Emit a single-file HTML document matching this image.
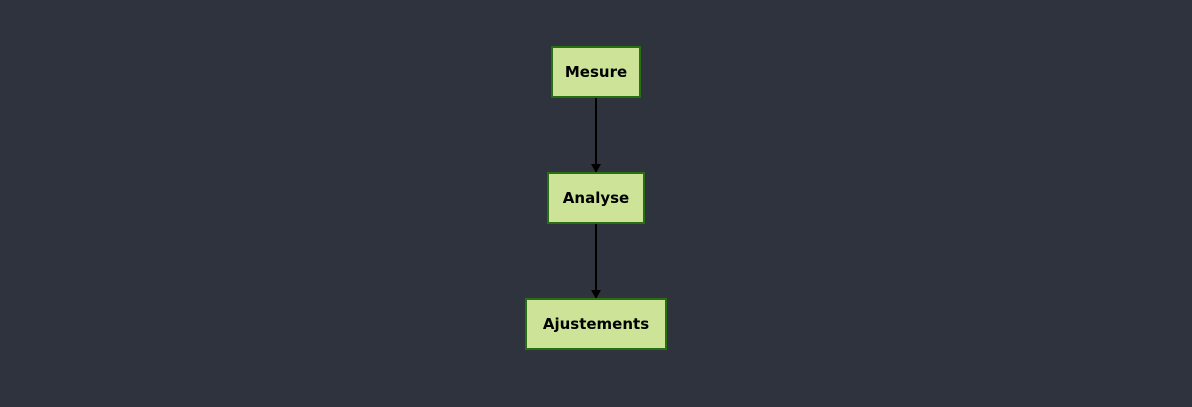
<!DOCTYPE html>
<html><head><style>
html,body{margin:0;padding:0;background:#2e333e;width:1192px;height:407px;overflow:hidden}
.b{position:absolute;background:#cde498;border:2px solid #2a6e14;box-sizing:border-box;display:flex;align-items:center;justify-content:center;font:bold 15px "DejaVu Sans","Liberation Sans",sans-serif;color:#000}
</style></head><body>
<svg width="1192" height="407" style="position:absolute;left:0;top:0">
<line x1="596" y1="97" x2="596" y2="172" stroke="#000" stroke-width="2"/>
<path d="M591,164 L601,164 L596,173 z" fill="#000"/>
<line x1="596" y1="223" x2="596" y2="298" stroke="#000" stroke-width="2"/>
<path d="M591,290 L601,290 L596,299 z" fill="#000"/>
</svg>
<div class="b" style="left:551px;top:46px;width:90px;height:52px">Mesure</div>
<div class="b" style="left:547px;top:172px;width:98px;height:52px">Analyse</div>
<div class="b" style="left:525px;top:298px;width:142px;height:52px">Ajustements</div>
</body></html>
